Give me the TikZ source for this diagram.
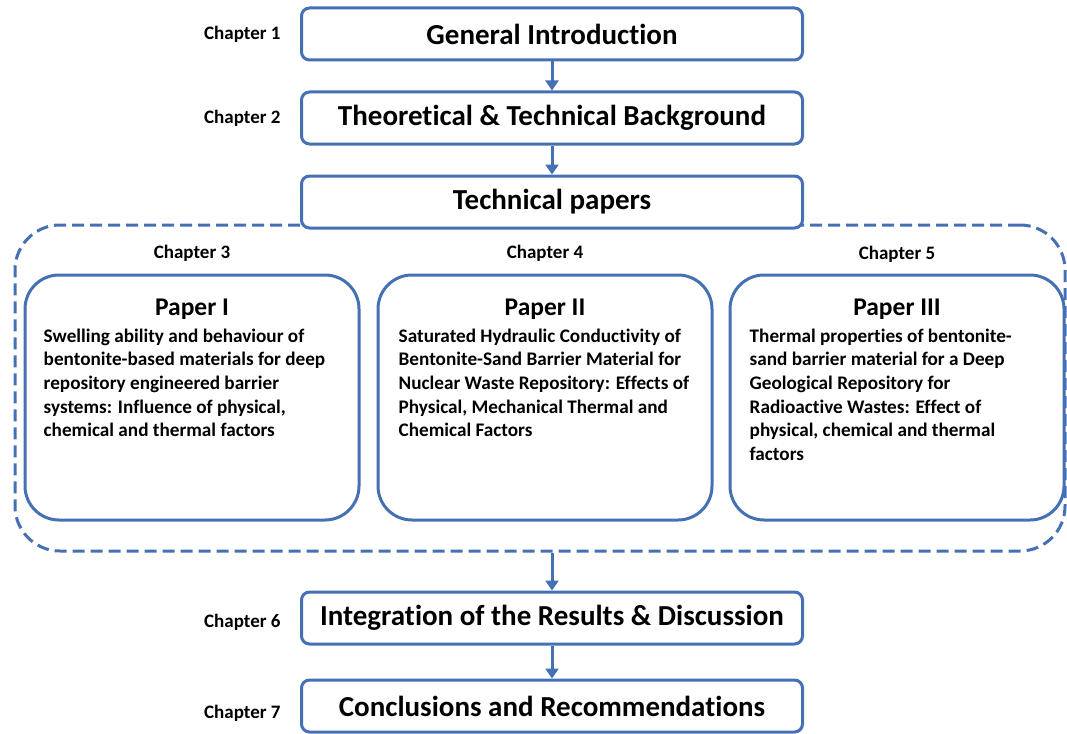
\documentclass[tikz,border=0pt]{standalone}
\usepackage{fontspec}
\setmainfont{Carlito}[Ligatures=NoCommon]
\usepackage{tikz}
\usetikzlibrary{positioning,arrows.meta}
\definecolor{frameblue}{RGB}{70,112,180}

\begin{document}
\begin{tikzpicture}[x=1pt, y=1pt,
  chapbox/.style={draw=frameblue, line width=3pt, rounded corners=8pt, fill=white, minimum width=501pt, minimum height=52pt, inner sep=0pt, font=\fontsize{29}{32}\selectfont\bfseries},
  paperbox/.style={draw=frameblue, line width=3pt, rounded corners=34pt, fill=white, minimum width=334pt, minimum height=245pt},
  chaplabel/.style={font=\fontsize{19}{22}\selectfont\bfseries},
  papertitle/.style={font=\fontsize{25.5}{28}\selectfont\bfseries, anchor=base},
  papertext/.style={font=\fontsize{19.2}{23.7}\selectfont\bfseries, align=left, inner sep=0pt, anchor=north west},
  flow/.style={draw=frameblue, line width=3pt, -{Triangle[width=13pt,length=10pt]}}]
\useasboundingbox (0,0) rectangle (1067,-733);

% dashed frame around the three papers
\node[draw=frameblue, line width=3pt, dash pattern=on 12pt off 6pt, rounded corners=45pt, minimum width=1050pt, minimum height=326pt] (papers) at (540,-388) {};

% main chapters
\node[chapbox] (intro) at (552,-34) {General Introduction};
\node[chapbox] (theory) at (552,-118) {Theoretical \& Technical Background};
\node[chapbox] (techpapers) at (552,-202) {Technical papers};
\node[chapbox] (results) at (552,-618) {Integration of the Results \& Discussion};
\node[chapbox] (concl) at (552,-706) {Conclusions and Recommendations};

\node[chaplabel, left=16pt of intro] (ch1) {Chapter 1};
\node[chaplabel, left=16pt of theory] (ch2) {Chapter 2};
\node[chaplabel, left=16pt of results, yshift=-4pt] (ch6) {Chapter 6};
\node[chaplabel, left=16pt of concl, yshift=-7pt] (ch7) {Chapter 7};

% the three papers
\node[paperbox] (p1) at (192,-397.5) {};
\node[paperbox] (p2) at (545,-397.5) {};
\node[paperbox] (p3) at (897,-397.5) {};

\node[chaplabel, above=8pt of p1] (ch3) {Chapter 3};
\node[chaplabel, above=8pt of p2] (ch4) {Chapter 4};
\node[chaplabel, above=7pt of p3] (ch5) {Chapter 5};

\node[papertitle] (t1) at ([yshift=-42pt]p1.north) {Paper I};
\node[papertitle] (t2) at ([yshift=-42pt]p2.north) {Paper II};
\node[papertitle] (t3) at ([yshift=-42pt]p3.north) {Paper III};

\node[papertext] (b1) at ([xshift=20pt, yshift=-55pt]p1.north west) {Swelling ability and behaviour of\\bentonite-based materials for deep\\repository engineered barrier\\systems: Influence of physical,\\chemical and thermal factors};
\node[papertext] (b2) at ([xshift=22pt, yshift=-55pt]p2.north west) {Saturated Hydraulic Conductivity of\\Bentonite-Sand Barrier Material for\\Nuclear Waste Repository: Effects of\\Physical, Mechanical Thermal and\\Chemical Factors};
\node[papertext] (b3) at ([xshift=21pt, yshift=-55pt]p3.north west) {Thermal properties of bentonite-\\sand barrier material for a Deep\\Geological Repository for\\Radioactive Wastes: Effect of\\physical, chemical and thermal\\factors};

% arrows
\draw[flow] (intro) -- (theory);
\draw[flow] (theory) -- (techpapers);
\draw[flow] (papers.south -| results.north) -- (results);
\draw[flow] (results) -- (concl);
\end{tikzpicture}
\end{document}
